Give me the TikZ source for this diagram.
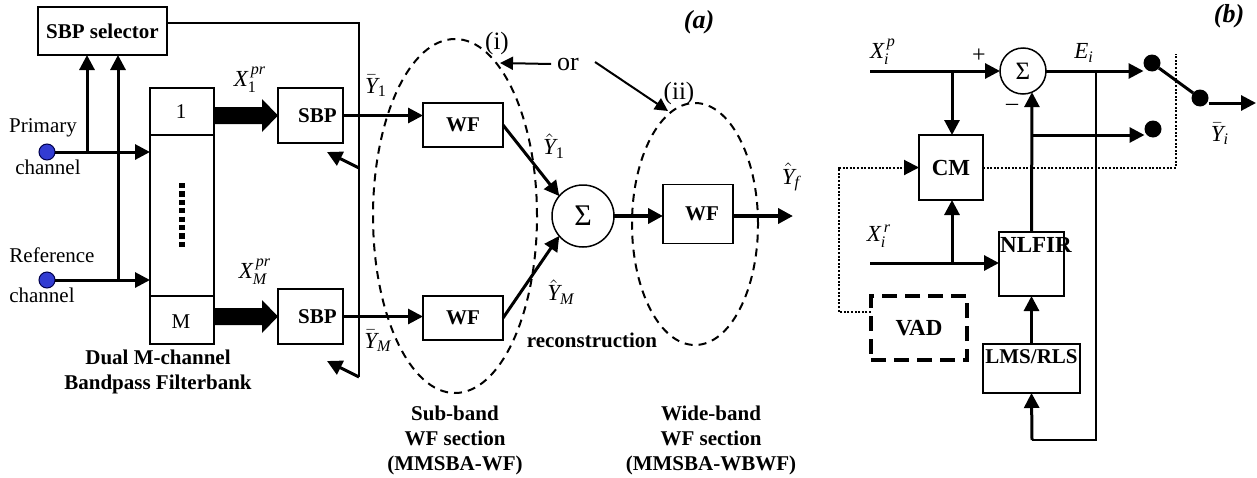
\documentclass[tikz,border=0pt]{standalone}
\usepackage{amsmath}
\usepackage{fontspec}
\setmainfont{Liberation Serif}
\usetikzlibrary{arrows.meta,shapes.geometric,calc}
\definecolor{dotblue}{RGB}{50,60,210}
\begin{document}
\begin{tikzpicture}[x=0.5pt,y=-0.5pt,
  every node/.style={inner sep=0pt, outer sep=0pt, font=\fontsize{10.5}{12}\selectfont},
  box/.style={draw, line width=0.75pt, font=\fontsize{10.5}{12}\selectfont\bfseries},
  boxb/.style={draw, line width=0.75pt, font=\fontsize{11.5}{12}\selectfont\bfseries},
  thk/.style={line width=1.5pt},
  vthk/.style={line width=2.2pt},
  thn/.style={line width=0.75pt},
  med/.style={line width=1pt},
  arr/.style={-{Triangle[length=7.5pt,width=7.5pt]}},
  sarr/.style={-{Triangle[length=6.5pt,width=6.5pt]}},
  ell/.style={ellipse, draw, line width=1pt, dash pattern=on 4pt off 3pt},
  dotl/.style={line width=1pt, dash pattern=on 1pt off 0.8pt},
  bdot/.style={circle, fill=black, minimum size=8.5pt},
  bdotblue/.style={circle, draw=black!70!blue, fill=dotblue, line width=0.5pt, minimum size=8pt},
  lab/.style={font=\fontsize{11.5}{12}\selectfont},
  bold/.style={font=\fontsize{10.5}{12.5}\selectfont\bfseries, align=center},
  title/.style={font=\fontsize{13}{13}\selectfont\bfseries\itshape}
]
\useasboundingbox (0,0) rectangle (1257,477);

% ================= panel (a) =================
\node[box, minimum width=64.5pt, minimum height=24pt] (sel) at (102.5,31) {SBP selector};
\node[draw, line width=0.75pt, minimum width=32pt, minimum height=128pt] (fb) at (182,216) {};
\draw[line width=1.1pt] (150,135) -- (214,135);
\draw[line width=1.1pt] (150,296) -- (214,296);
\node (one) at (181,112) {1};
\node (mm) at (181,322) {M};
\draw[line width=2.6pt, dash pattern=on 2.6pt off 1.6pt] (182,183) -- (182,250);

% channels
\node[bdotblue] (pd) at (47,152) {};
\node[bdotblue] (rd) at (47,280) {};
\node (prim) at (43,128) {Primary};
\node (ch1) at (48,167) {channel};
\node (refc) at (52,255) {Reference};
\node (ch2) at (42,295) {channel};
\coordinate (j1) at (87,152);
\coordinate (j2) at (118,280);
\draw[thk,arr] (pd) -- (pd -| fb.west);
\draw[thk,arr] (rd) -- (rd -| fb.west);
\draw[thk,arr] (j1) -- (j1 |- sel.south);
\draw[thk,arr] (j2) -- (j2 |- sel.south);

% SBP boxes
\node[box, minimum width=32.5pt, minimum height=27.5pt] (sbp1) at (310.5,115.5) {\hspace{7pt}SBP};
\node[box, minimum width=32.5pt, minimum height=27.5pt] (sbpm) at (310.5,316.5) {\hspace{7pt}SBP};

% block arrows
\fill ($(fb.east|-sbp1.west)+(0,-8.5)$) -- ($(sbp1.west)+(-16,-8.5)$) -- ($(sbp1.west)+(-16,-16.5)$) -- (sbp1.west)
  -- ($(sbp1.west)+(-16,16.5)$) -- ($(sbp1.west)+(-16,8.5)$) -- ($(fb.east|-sbp1.west)+(0,8.5)$) -- cycle;
\fill ($(fb.east|-sbpm.west)+(0,-8.5)$) -- ($(sbpm.west)+(-16,-8.5)$) -- ($(sbpm.west)+(-16,-16.5)$) -- (sbpm.west)
  -- ($(sbpm.west)+(-16,16.5)$) -- ($(sbpm.west)+(-16,8.5)$) -- ($(fb.east|-sbpm.west)+(0,8.5)$) -- cycle;
\node[lab] (x1) at (250,80) {$\textit{X}^{\,\textit{pr}}_{\text{1}}$};
\node[lab] (xm) at (255,272) {$\textit{X}^{\,\textit{pr}}_{\textit{M}}$};

% selector feedback
\coordinate (fr) at (359,23);
\coordinate (fm) at (359,168);
\coordinate (fbot) at (359,377);
\coordinate (t1) at (327,152);
\coordinate (t2) at (327,361);
\draw[thn] ($(sel.east)+(0,-8)$) -- (fr) -- (fbot);
\draw[thk,arr] (fm) -- (t1);
\draw[thk,arr] (fbot) -- (t2);

% WF boxes
\node[box, minimum width=40pt, minimum height=22pt] (wf1) at (463,125) {WF};
\node[box, minimum width=40pt, minimum height=22pt] (wfm) at (463,318) {WF};
\draw[thk,arr] (sbp1.east) -- (sbp1.east -| wf1.west);
\draw[thk,arr] (sbpm.east) -- (sbpm.east -| wfm.west);
\node[lab] (yb1) at (376,86) {$\bar{\textit{Y}}_{\text{1}}$};
\node[lab] (ybm) at (378,341) {$\bar{\textit{Y}}_{\textit{M}}$};

% ellipses
\node[ell, minimum width=82pt, minimum height=177pt] (e1) at (455,216) {};
\node[ell, minimum width=63pt, minimum height=121pt] (e2) at (695,224) {};
\node[font=\fontsize{12.5}{13}\selectfont] (li) at (497,43) {(i)};
\node[font=\fontsize{12.5}{13}\selectfont] (lii) at (679,93) {(ii)};
\node[font=\fontsize{13}{13}\selectfont] (or) at (568,64) {or};
\coordinate (o1) at (500,63);
\coordinate (o2) at (668,111);
\draw[med,sarr] (or.west) ++(-6,0) -- (o1);
\draw[med,sarr] (595,62) -- (o2);

% sum
\node[circle, draw, thn, minimum size=31pt, font=\fontsize{15}{15}\selectfont] (sa) at (583,216) {Σ};
\draw[thk,arr] (wf1.east) -- (sa.140);
\draw[thk,arr] (wfm.east) -- (sa.220);
\node[lab] (yh1) at (554,146) {$\hat{\textit{Y}}_{\text{1}}$};
\node[lab] (yhm) at (561,292) {$\hat{\textit{Y}}_{\textit{M}}$};

\node[box, minimum width=35pt, minimum height=29.5pt] (wf2) at (698,214) {\hspace{4pt}WF};
\coordinate (yf) at (793,216);
\draw[vthk,arr] (sa.east) -- (sa.east -| wf2.west);
\draw[vthk,arr] (wf2.east |- yf) -- (yf);
\node[lab] (yhf) at (791,177) {$\hat{\textit{Y}}_{\textit{f}}$};

\node[bold] (rec) at (592,340) {reconstruction};
\node[title] (ta) at (699,22) {(a)};
\node[bold] (dual) at (158,372) {Dual M-channel\\Bandpass Filterbank};
\node[bold] (sub) at (455,440) {Sub-band\\WF section\\(MMSBA-WF)};
\node[bold] (wide) at (711,440) {Wide-band\\WF section\\(MMSBA-WBWF)};

% ================= panel (b) =================
\node[title] (tb) at (1229,16) {(b)};
\node[circle, draw, thn, minimum size=23pt, font=\fontsize{12.5}{12}\selectfont] (sb) at (1023,71) {Σ};
\node[boxb, minimum width=32pt, minimum height=32.5pt] (cm) at (951,167.5) {CM};
\node[draw, line width=0.75pt, minimum width=32.5pt, minimum height=32pt] (nl) at (1031.5,264) {};
\node[font=\fontsize{11.5}{12}\selectfont\bfseries] (nlt) at (1036,245) {NLFIR};
\node[draw, line width=0.75pt, minimum width=48.5pt, minimum height=24.5pt] (lms) at (1031.5,368.5) {};
\node[font=\fontsize{10.5}{12}\selectfont\bfseries] (lmst) at (1031.5,357) {LMS/RLS};
\node[boxb, line width=2pt, dash pattern=on 7.5pt off 4pt, minimum width=48pt, minimum height=32pt] (vad) at (919,328) {VAD};

\node[bdot] (d1) at (1152,63) {};
\node[bdot] (d2) at (1200,98) {};
\node[bdot] (d3) at (1153,129) {};

\coordinate (xin) at (870,71);
\coordinate (jb1) at (952,71);
\coordinate (xr) at (870,263);
\coordinate (jb3) at (952,263);
\coordinate (jb2) at (1032,135);
\coordinate (ei) at (1096,71);
\coordinate (fb1) at (1096,440);
\coordinate (fb2) at (1032,440);
\coordinate (yout) at (1256,103);

\draw[thk,arr] (xin) -- (sb.west);
\draw[thk,arr] (jb1) -- (jb1 |- cm.north);
\draw[thk,arr] (sb.east) -- (sb.east -| d1.west);
\draw[thk,arr] (nl.north) -- (sb.-67);
\draw[thk,arr] (jb2) -- (jb2 -| d3.west);
\draw[thk] (d1) -- (d2);
\draw[thk,arr] (d2.east |- yout) -- (yout);
\draw[thk,arr] (xr) -- (xr -| nl.west);
\draw[thk,arr] (jb3) -- (jb3 |- cm.south);
\draw[thk,arr] (lms.north) -- (nl.south);
\draw[thn] (ei) -- (fb1) -- (fb2);
\draw[thk,arr] (fb2) -- (lms.south);

\coordinate (v1) at (839,312);
\coordinate (v2) at (839,167.5);
\coordinate (v3) at (1176,167.5);
\coordinate (v4) at (1176,54);
\draw[dotl,arr] (vad.west |- v1) -- (v1) -- (v2) -- (cm.west);
\draw[dotl] (cm.east) -- (v3) -- (v4);

\node[lab] (xp) at (883,52) {$\textit{X}_{\textit{i}}^{\,\textit{p}}$};
\node[lab] (xrl) at (879,236) {$\textit{X}_{\textit{i}}^{\,\textit{r}}$};
\node[font=\fontsize{12}{12}\selectfont] (plus) at (979,56) {+};
\node[font=\fontsize{12}{12}\selectfont] (minus) at (1012,107) {–};
\node[lab] (eil) at (1084,53) {$\textit{E}_{\textit{i}}$};
\node[lab] (yil) at (1220,134) {$\bar{\textit{Y}}_{\textit{i}}$};
\end{tikzpicture}
\end{document}
